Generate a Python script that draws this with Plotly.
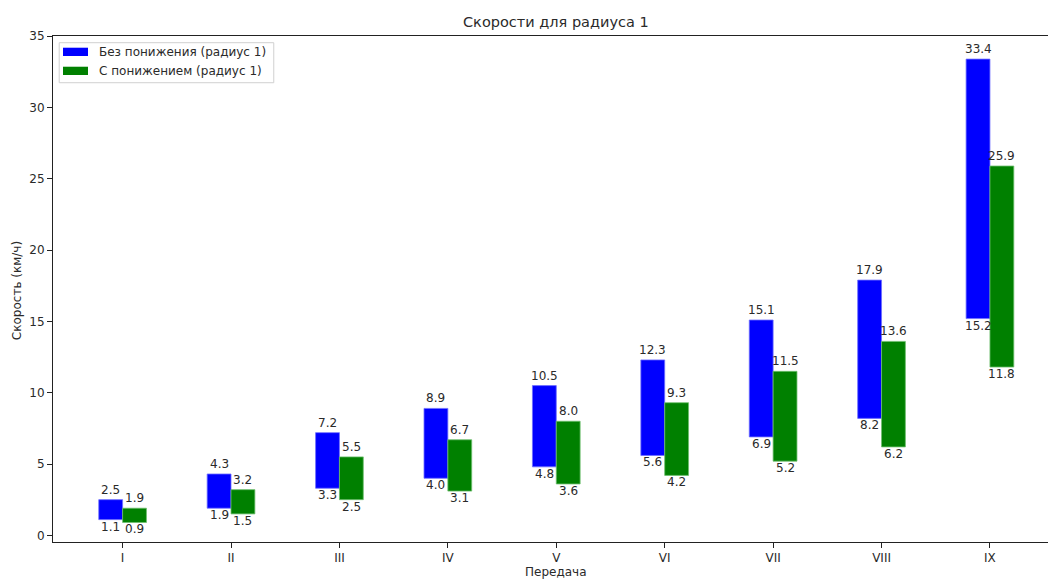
import plotly.graph_objects as go

gears = ["I", "II", "III", "IV", "V", "VI", "VII", "VIII", "IX"]
no_red_low = [1.1, 1.9, 3.3, 4.0, 4.8, 5.6, 6.9, 8.2, 15.2]
no_red_high = [2.5, 4.3, 7.2, 8.9, 10.5, 12.3, 15.1, 17.9, 33.4]
red_low = [0.9, 1.5, 2.5, 3.1, 3.6, 4.2, 5.2, 6.2, 11.8]
red_high = [1.9, 3.2, 5.5, 6.7, 8.0, 9.3, 11.5, 13.6, 25.9]

name_blue = "Без понижения (радиус 1)"
name_green = "С понижением (радиус 1)"

W, H = 1048, 579
L, R, T, B = 53.3, 0, 36, 37.3
PW = W - L - R
PH = H - T - B
FONT = "DejaVu Sans"
TXT = "#2a2a2a"

bw = 0.22
xs = list(range(len(gears)))
xb = [x - bw / 2 for x in xs]
xg = [x + bw / 2 for x in xs]

fig = go.Figure()
fig.add_trace(go.Bar(x=xb, y=[h - l for h, l in zip(no_red_high, no_red_low)], base=no_red_low,
                     width=bw, marker=dict(color="blue", line=dict(width=0.8, color="#6f6fff")),
                     name=name_blue, showlegend=False, hoverinfo="skip"))
fig.add_trace(go.Bar(x=xg, y=[h - l for h, l in zip(red_high, red_low)], base=red_low,
                     width=bw, marker=dict(color="green", line=dict(width=0.8, color="#6fbf6f")),
                     name=name_green, showlegend=False, hoverinfo="skip"))

ann = []
for xx, lo, hi in list(zip(xb, no_red_low, no_red_high)) + list(zip(xg, red_low, red_high)):
    ann.append(dict(x=xx, y=hi, xref="x", yref="y", text=f"{hi:.1f}", showarrow=False,
                    yanchor="bottom", xanchor="center", yshift=1,
                    font=dict(family=FONT, size=12, color=TXT)))
    ann.append(dict(x=xx, y=lo, xref="x", yref="y", text=f"{lo:.1f}", showarrow=False,
                    yanchor="top", xanchor="center", yshift=2,
                    font=dict(family=FONT, size=12, color=TXT)))


def px(xp):
    return (xp - L) / PW


def py(yp):
    return (H - B - yp) / PH


# full (uncropped) axes centre in pixels
cx = 556.4
ann.append(dict(x=px(cx), y=py(22), xref="paper", yref="paper", text="Скорости для радиуса 1",
                showarrow=False, xanchor="center", yanchor="middle",
                font=dict(family=FONT, size=14.5, color=TXT)))
ann.append(dict(x=px(cx), y=py(572), xref="paper", yref="paper", text="Передача",
                showarrow=False, xanchor="center", yanchor="middle",
                font=dict(family=FONT, size=12, color=TXT)))
ann.append(dict(x=px(17.3), y=py(290), xref="paper", yref="paper", text="Скорость (км/ч)",
                showarrow=False, xanchor="center", yanchor="middle", textangle=-90,
                font=dict(family=FONT, size=12, color=TXT)))

# legend drawn manually
shapes = [
    dict(type="rect", xref="paper", yref="paper", x0=px(59.5), x1=px(274), y0=py(82.7), y1=py(42.7),
         line=dict(color="#d0d0d0", width=1), fillcolor="rgba(255,255,255,0.8)", layer="above"),
    dict(type="rect", xref="paper", yref="paper", x0=px(63.3), x1=px(88.3), y0=py(56), y1=py(47.7),
         line=dict(width=0), fillcolor="blue", layer="above"),
    dict(type="rect", xref="paper", yref="paper", x0=px(63.3), x1=px(88.3), y0=py(75), y1=py(66.7),
         line=dict(width=0), fillcolor="green", layer="above"),
]
ann.append(dict(x=px(97.7), y=py(52.3), xref="paper", yref="paper", text=name_blue, showarrow=False,
                xanchor="left", yanchor="middle", font=dict(family=FONT, size=12, color=TXT)))
ann.append(dict(x=px(97.7), y=py(71), xref="paper", yref="paper", text=name_green, showarrow=False,
                xanchor="left", yanchor="middle", font=dict(family=FONT, size=12, color=TXT)))

unit = (990 - 123.3) / 8.0
fig.update_layout(
    width=W, height=H,
    margin=dict(l=L, r=R, t=T, b=B, pad=0),
    plot_bgcolor="white", paper_bgcolor="white",
    barmode="overlay",
    showlegend=False,
    font=dict(family=FONT, size=12, color=TXT),
    annotations=ann,
    shapes=shapes,
    xaxis=dict(range=[-0.642, 8 + (W - 990) / unit], tickmode="array", tickvals=xs, ticktext=gears,
               showgrid=False, zeroline=False, showline=True, linecolor="#222", linewidth=1,
               mirror=True, ticks="outside", ticklen=5, tickcolor="#222",
               tickfont=dict(family=FONT, size=12, color=TXT)),
    yaxis=dict(range=[-0.47, 35.02], tickmode="array", tickvals=[0, 5, 10, 15, 20, 25, 30, 35],
               showgrid=False, zeroline=False, showline=True, linecolor="#222", linewidth=1,
               ticks="outside", ticklen=5, tickcolor="#222",
               tickfont=dict(family=FONT, size=12, color=TXT)),
)

fig.write_html("out.html")
